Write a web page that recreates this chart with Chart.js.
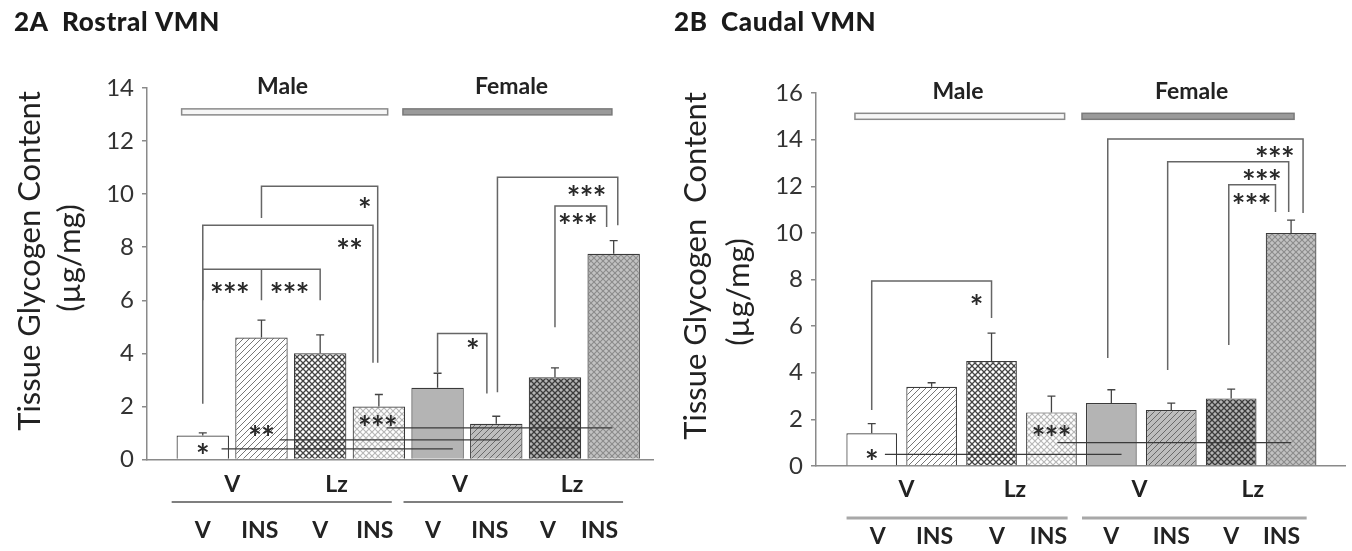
<!DOCTYPE html>
<html><head><meta charset="utf-8">
<script src="https://cdn.jsdelivr.net/npm/chart.js@4.4.1/dist/chart.umd.min.js"></script>
<style>
html,body{margin:0;padding:0;background:#fff;width:1352px;height:551px;overflow:hidden}
#cA{position:absolute;left:0;top:0}
#cB{position:absolute;left:660px;top:0}
</style></head><body>
<canvas id="cA" width="660" height="551"></canvas>
<canvas id="cB" width="692" height="551"></canvas>
<script>
// ---------------- data ----------------
const categories = ['Male V/V','Male V/INS','Male Lz/V','Male Lz/INS','Female V/V','Female V/INS','Female Lz/V','Female Lz/INS'];
const sexLabels = ['Male','Female'];
const drugLabels = ['V','Lz','V','Lz'];
const treatLabels = ['V','INS','V','INS','V','INS','V','INS'];

const rostralMean = [0.9, 4.6, 4.0, 2.0, 2.7, 1.35, 3.1, 7.75];
const rostralSEM  = [0.1, 0.65, 0.7, 0.45, 0.55, 0.28, 0.35, 0.5];
const rostralTicks = [0, 2, 4, 6, 8, 10, 12, 14];

const caudalMean = [1.4, 3.4, 4.5, 2.3, 2.7, 2.4, 2.9, 10.0];
const caudalSEM  = [0.42, 0.17, 1.2, 0.7, 0.57, 0.3, 0.4, 0.55];
const caudalTicks = [0, 2, 4, 6, 8, 10, 12, 14, 16];

// significance brackets (x in bar-index units, y in µg/mg)
const rostralBrackets = [
  {x1:1.0, x2:2.98, top:10.3, y1:9.1, y2:3.65},
  {x1:0.0, x2:2.9, top:8.83, y1:2.1, y2:3.65},
  {x1:0.0, x2:2.0, top:7.17, y1:6.0, y2:6.0, mid:1.0, midEnd:6.0},
  {x1:4.0, x2:4.84, top:4.75, y1:3.28, y2:2.49},
  {x1:5.02, x2:7.07, top:10.64, y1:2.53, y2:8.83},
  {x1:6.0, x2:6.88, top:9.55, y1:4.98, y2:8.76}
];
const rostralStars = [
  {t:'*', x:2.76, y:9.7}, {t:'**', x:2.5, y:8.15},
  {t:'***', x:0.46, y:6.5}, {t:'***', x:1.48, y:6.5},
  {t:'*', x:4.6, y:4.38}, {t:'***', x:6.54, y:10.15}, {t:'***', x:6.39, y:9.1},
  {t:'*', x:0.0, y:0.45}, {t:'**', x:1.0, y:1.1}, {t:'***', x:2.98, y:1.5}
];
const rostralSexLines = [
  {x1:0.32, x2:4.26, y:0.4}, {x1:1.31, x2:5.06, y:0.74}, {x1:3.13, x2:6.98, y:1.19}
];

const caudalBrackets = [
  {x1:0.0, x2:2.0, top:7.94, y1:2.4, y2:6.35},
  {x1:3.94, x2:7.2, top:14.03, y1:4.63, y2:10.85},
  {x1:4.94, x2:6.96, top:13.05, y1:4.12, y2:10.9},
  {x1:5.96, x2:6.74, top:12.06, y1:5.19, y2:10.9}
];
const caudalStars = [
  {t:'*', x:1.75, y:7.17},
  {t:'***', x:6.73, y:13.5}, {t:'***', x:6.51, y:12.53}, {t:'***', x:6.34, y:11.5},
  {t:'*', x:0.0, y:0.5}, {t:'***', x:3.0, y:1.55}
];
const caudalSexLines = [
  {x1:0.22, x2:4.17, y:0.5}, {x1:3.1, x2:7.0, y:1.0}
];

// ---------------- styling helpers ----------------
const FONT = 'Lato, "Open Sans", "Noto Sans", sans-serif';

function makePattern(ctx, kind, bg, fg, lw){
  const s = 6;
  const c = document.createElement('canvas'); c.width = s; c.height = s;
  const g = c.getContext('2d');
  g.fillStyle = bg; g.fillRect(0,0,s,s);
  if (kind === 'solid') return bg;
  g.strokeStyle = fg; g.lineWidth = lw;
  const fwd = () => { g.beginPath(); g.moveTo(-1,s+1); g.lineTo(s+1,-1); g.moveTo(-1,1); g.lineTo(1,-1); g.moveTo(s-1,s+1); g.lineTo(s+1,s-1); g.stroke(); };
  const back = () => { g.beginPath(); g.moveTo(-1,-1); g.lineTo(s+1,s+1); g.moveTo(s-1,-1); g.lineTo(s+1,1); g.moveTo(-1,s-1); g.lineTo(1,s+1); g.stroke(); };
  if (kind === 'diag') fwd();
  if (kind === 'cross') { fwd(); back(); }
  return ctx.createPattern(c, 'repeat');
}
function fills(ctx){
  return [
    makePattern(ctx,'solid','#ffffff'),
    makePattern(ctx,'diag','#ffffff','#777777',1),
    makePattern(ctx,'cross','#ffffff','#444444',1.3),
    makePattern(ctx,'cross','#ffffff','#b8b8b8',1.2),
    makePattern(ctx,'solid','#b4b4b4'),
    makePattern(ctx,'diag','#bdbdbd','#6a6a6a',1),
    makePattern(ctx,'cross','#b4b4b4','#3c3c3c',1.3),
    makePattern(ctx,'cross','#c2c2c2','#8c8c8c',1.1)
  ];
}

function drawStars(ctx, text, cx, cy){
  ctx.font = 'bold 32px ' + FONT;
  ctx.fillStyle = '#2a2a2a';
  ctx.textAlign = 'center';
  ctx.textBaseline = 'alphabetic';
  const m = ctx.measureText('*');
  const base = cy + (m.actualBoundingBoxAscent - m.actualBoundingBoxDescent) / 2;
  const n = text.length, sp = 13;
  for (let i = 0; i < n; i++) {
    ctx.fillText('*', cx + (i - (n - 1) / 2) * sp, base);
  }
}

function annotPlugin(p){
  return {
    id: 'annot_' + p.key,
    afterDatasetsDraw(chart){
      const ctx = chart.ctx, xs = chart.scales.x, ys = chart.scales.y;
      const X = v => xs.getPixelForValue(v), Y = v => ys.getPixelForValue(v);
      ctx.save();
      // error bars
      ctx.strokeStyle = '#444'; ctx.lineWidth = 1.3;
      p.mean.forEach((m, i) => {
        const x = X(i), y0 = Y(m), y1 = Y(m + p.sem[i]);
        ctx.beginPath(); ctx.moveTo(x, y0); ctx.lineTo(x, y1);
        ctx.moveTo(x - 4, y1); ctx.lineTo(x + 4, y1); ctx.stroke();
      });
      // sex comparison lines
      ctx.strokeStyle = '#3a3a3a'; ctx.lineWidth = 1.3;
      p.sexLines.forEach(l => { ctx.beginPath(); ctx.moveTo(X(l.x1), Y(l.y)); ctx.lineTo(X(l.x2), Y(l.y)); ctx.stroke(); });
      // brackets
      ctx.strokeStyle = '#666'; ctx.lineWidth = 1.5;
      p.brackets.forEach(b => {
        ctx.beginPath();
        ctx.moveTo(X(b.x1), Y(b.y1)); ctx.lineTo(X(b.x1), Y(b.top));
        ctx.lineTo(X(b.x2), Y(b.top)); ctx.lineTo(X(b.x2), Y(b.y2));
        if (b.mid !== undefined) { ctx.moveTo(X(b.mid), Y(b.top)); ctx.lineTo(X(b.mid), Y(b.midEnd)); }
        ctx.stroke();
      });
      // stars
      p.stars.forEach(s => drawStars(ctx, s.t, X(s.x), Y(s.y)));
      // sex group bars
      p.groupBars.forEach((g, i) => {
        const x1 = X(g.x1), x2 = X(g.x2), yc = Y(p.groupY);
        ctx.fillStyle = i === 0 ? '#f6f6f6' : '#9a9a9a';
        ctx.strokeStyle = i === 0 ? '#8a8a8a' : '#7a7a7a';
        ctx.lineWidth = 1.5;
        ctx.fillRect(x1, yc - 3, x2 - x1, 6);
        ctx.strokeRect(x1, yc - 3, x2 - x1, 6);
      });
      ctx.font = 'bold 23px ' + FONT; ctx.fillStyle = '#222';
      ctx.textAlign = 'center'; ctx.textBaseline = 'middle';
      sexLabels.forEach((t, i) => ctx.fillText(t, X(p.sexLabelX[i]), p.sexLabelY));
      // x labels
      ctx.font = 'bold 23px ' + FONT;
      drugLabels.forEach((t, i) => ctx.fillText(t, X(p.drugX[i]), p.row1Y));
      treatLabels.forEach((t, i) => ctx.fillText(t, X(p.treatX[i]), p.row2Y));
      ctx.strokeStyle = p.sepColor; ctx.lineWidth = p.sepWidth;
      p.sep.forEach(s => { ctx.beginPath(); ctx.moveTo(X(s[0]), p.sepY); ctx.lineTo(X(s[1]), p.sepY); ctx.stroke(); });
      // panel title
      ctx.textAlign = 'left'; ctx.font = '900 26px ' + FONT; ctx.fillStyle = '#1a1a1a';
      if ('letterSpacing' in ctx) ctx.letterSpacing = '0.6px';
      ctx.fillText(p.title, 14, 23);
      if ('letterSpacing' in ctx) ctx.letterSpacing = '0px';
      // y-axis title
      ctx.font = '31px ' + FONT; ctx.fillStyle = '#222'; ctx.textAlign = 'center';
      p.yTitle.forEach((t, i) => {
        ctx.save(); ctx.translate(p.yTitlePos[i][0], p.yTitlePos[i][1]); ctx.rotate(-Math.PI / 2);
        ctx.fillText(t, 0, 0); ctx.restore();
      });
      ctx.restore();
    }
  };
}

function makeChart(id, p){
  const canvas = document.getElementById(id);
  const ctx = canvas.getContext('2d');
  return new Chart(canvas, {
    type: 'bar',
    data: {
      labels: categories,
      datasets: [{
        label: p.title,
        data: p.mean.map((v, i) => ({x: i, y: v})),
        backgroundColor: fills(ctx),
        borderColor: '#3a3a3a', borderWidth: 1.2,
        barPercentage: 0.94, categoryPercentage: 1
      }]
    },
    options: {
      responsive: false, animation: false,
      layout: {padding: p.pad},
      plugins: {legend: {display: false}, tooltip: {enabled: false}},
      scales: {
        x: {type: 'linear', min: p.xMin, max: p.xMax, offset: false,
            ticks: {display: false}, grid: {display: false, drawTicks: false},
            border: {display: true, color: '#8a8a8a', width: 1.5},
            afterFit(s){ s.height = 0; }},
        y: {min: 0, max: p.ticks[p.ticks.length - 1],
            afterBuildTicks(s){ s.ticks = p.ticks.map(v => ({value: v})); },
            ticks: {color: '#333', font: {family: FONT, size: 24}, padding: 8},
            grid: {display: true, drawOnChartArea: false, drawTicks: true, tickLength: 5, color: '#8a8a8a', lineWidth: 1.5},
            border: {display: true, color: '#8a8a8a', width: 1.5},
            afterFit(s){ s.width = 60; }}
      }
    },
    plugins: [annotPlugin(p)]
  });
}

makeChart('cA', {
  key: 'A', title: '2A  Rostral VMN',
  mean: rostralMean, sem: rostralSEM, ticks: rostralTicks,
  xMin: -0.95, xMax: 7.67, pad: {left: 87, right: 7, top: 88, bottom: 91.5},
  brackets: rostralBrackets, stars: rostralStars, sexLines: rostralSexLines,
  groupBars: [{x1: -0.36, x2: 3.15}, {x1: 3.41, x2: 6.97}], groupY: 13.1,
  sexLabelX: [1.36, 5.26], sexLabelY: 87,
  drugX: [0.5, 2.28, 4.38, 6.29], row1Y: 485,
  treatX: [0, 0.97, 2.0, 2.93, 3.92, 4.89, 5.88, 6.76], row2Y: 531,
  sep: [[-0.53, 3.22], [3.42, 7.16]], sepY: 502, sepColor: '#555', sepWidth: 1.6,
  yTitle: ['Tissue Glycogen Content', '(\u00b5g/mg)'], yTitlePos: [[30, 261], [70, 258]]
});

makeChart('cB', {
  key: 'B', title: '2B  Caudal VMN',
  mean: caudalMean, sem: caudalSEM, ticks: caudalTicks,
  xMin: -0.93, xMax: 7.9, pad: {left: 96, right: 7, top: 93, bottom: 85},
  brackets: caudalBrackets, stars: caudalStars, sexLines: caudalSexLines,
  groupBars: [{x1: -0.28, x2: 3.22}, {x1: 3.51, x2: 7.05}], groupY: 15.0,
  sexLabelX: [1.44, 5.34], sexLabelY: 92,
  drugX: [0.58, 2.39, 4.47, 6.36], row1Y: 490,
  treatX: [0.1, 1.05, 2.09, 2.95, 4.0, 5.0, 6.0, 6.84], row2Y: 537,
  sep: [[-0.42, 3.27], [3.51, 7.26]], sepY: 518, sepColor: '#a8a8a8', sepWidth: 3,
  yTitle: ['Tissue Glycogen  Content', '(\u00b5g/mg)'], yTitlePos: [[36, 266], [79, 292]]
});
</script>
</body></html>
